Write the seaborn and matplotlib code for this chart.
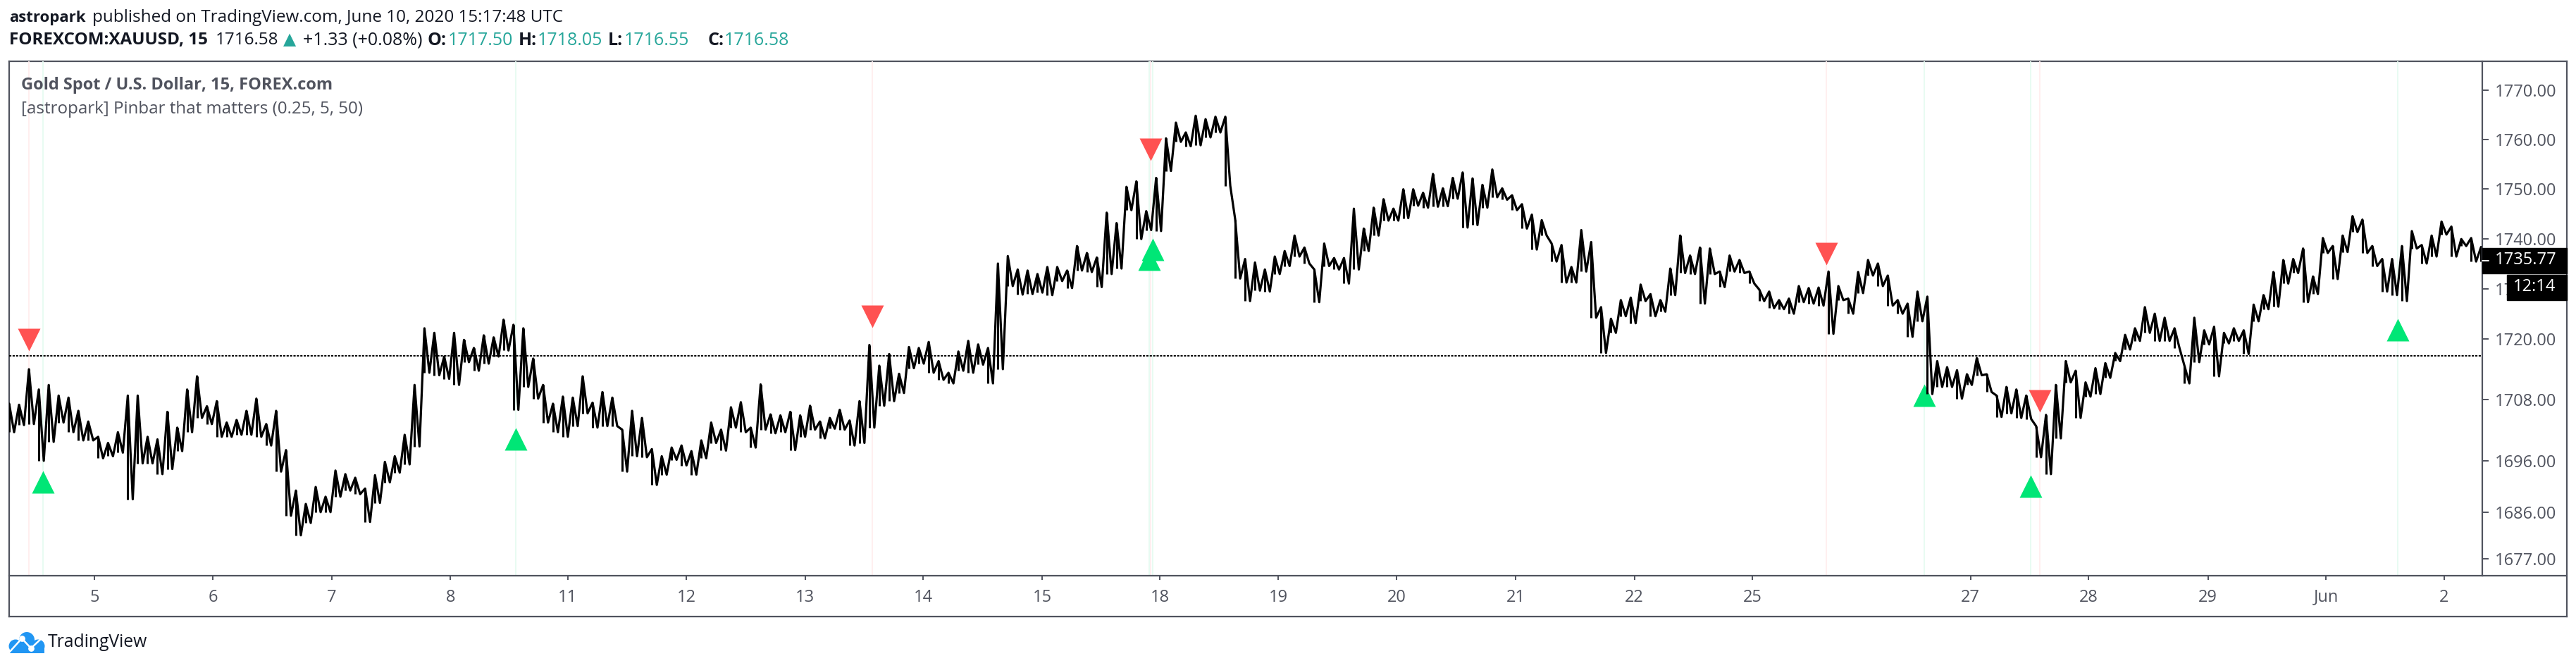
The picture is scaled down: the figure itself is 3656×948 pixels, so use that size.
import matplotlib
matplotlib.use('Agg')
import matplotlib.pyplot as plt
import numpy as np
import pandas as pd
import seaborn as sns
from matplotlib.patches import Circle, Rectangle
from matplotlib.ticker import FixedLocator, NullLocator

W = 3656
H = 948
GREY = '#50535E'
TEAL = '#26A69A'
DARK = '#131722'

# one high/low pair every 8 bars (2 hours)
highs = [
    1707.2, 1707.0, 1714.0, 1710.0, 1710.9, 1708.8, 1708.4, 1705.8, 1703.7, 1700.7, 1699.5, 1701.6, 1708.8,
    1708.8, 1700.7, 1700.2, 1705.6, 1702.5, 1710.0, 1712.6, 1706.7, 1707.7, 1703.5, 1704.0, 1705.8, 1708.2,
    1703.2, 1705.8, 1698.1, 1690.2, 1687.6, 1690.9, 1689.0, 1694.1, 1693.4, 1692.7, 1690.6, 1693.2, 1695.8,
    1696.9, 1701.1, 1710.9, 1722.1, 1721.2, 1716.5, 1721.2, 1719.8, 1718.2, 1720.7, 1720.3, 1723.8, 1722.8,
    1722.1, 1716.1, 1710.9, 1707.2, 1708.6, 1708.4, 1712.6, 1707.4, 1709.5, 1708.4, 1702.1, 1705.8,
    1704.4, 1698.3, 1696.9, 1698.6, 1699.0, 1697.9, 1700.0, 1703.5, 1702.1, 1706.5, 1707.5, 1702.5, 1711.0,
    1705.1, 1704.9, 1705.6, 1704.9, 1706.8, 1703.7, 1704.4, 1706.0, 1703.9, 1707.7, 1718.8, 1714.7, 1717.0,
    1713.1, 1718.4, 1718.2, 1719.4, 1715.6, 1713.3, 1717.5, 1719.6, 1718.9, 1718.2, 1735.0, 1736.5, 1733.8,
    1733.6, 1732.9, 1734.3, 1734.3, 1733.6,
    1738.5, 1737.1, 1736.2, 1745.2, 1743.1, 1750.4, 1751.5, 1745.5, 1752.2, 1760.2, 1763.4, 1761.4, 1764.8,
    1764.1, 1764.6, 1764.6, 1743.8, 1735.9, 1735.2, 1733.8, 1736.4, 1737.5, 1740.6, 1738.2, 1733.8, 1739.0,
    1736.1, 1736.1, 1746.0, 1742.0, 1746.2, 1747.9, 1746.0, 1749.9, 1749.9, 1749.2, 1753.0, 1750.1, 1752.2,
    1753.3, 1752.1, 1750.8, 1753.9, 1750.1, 1748.7, 1746.9, 1744.8, 1743.7, 1739.0, 1738.7, 1734.3, 1741.7,
    1739.3, 1726.3, 1724.0, 1727.7, 1728.2, 1730.8, 1728.9, 1727.7, 1734.0, 1740.6, 1736.6, 1738.2, 1738.0,
    1733.4, 1736.6, 1735.7, 1733.4, 1729.8, 1729.4,
    1727.7, 1728.0, 1730.5, 1730.1, 1730.2, 1733.4, 1730.5, 1728.0, 1733.3, 1735.7, 1735.0, 1732.6, 1727.7,
    1727.0, 1729.4, 1728.4, 1715.6, 1714.4, 1713.8, 1713.0, 1716.2, 1713.0, 1708.8, 1710.5, 1710.0, 1708.8,
    1702.8, 1705.0, 1710.9, 1715.6, 1713.7, 1711.4, 1714.2, 1715.2, 1717.2, 1720.8, 1722.1, 1726.3, 1725.0,
    1724.2, 1722.1, 1714.7, 1724.2, 1721.7, 1722.4, 1721.2, 1722.1, 1721.7, 1726.8, 1728.7, 1733.3, 1735.7,
    1735.9, 1738.0, 1732.4, 1740.1, 1738.5, 1740.6, 1744.5, 1743.8, 1738.5, 1735.9, 1735.9, 1738.5, 1741.5,
    1738.7, 1740.6, 1743.4, 1742.4, 1739.9, 1740.1, 1738.3,
]
lows = [
    1701.6, 1703.0, 1703.2, 1696.0, 1699.7, 1703.5, 1701.6, 1700.0, 1700.0, 1696.5, 1696.9, 1697.6, 1688.5,
    1695.5, 1695.5, 1693.4, 1694.4, 1697.9, 1701.6, 1704.4, 1703.2, 1700.7, 1700.7, 1701.1, 1701.1, 1700.7,
    1699.0, 1693.9, 1685.3, 1681.5, 1683.9, 1686.0, 1686.0, 1689.0, 1690.2, 1689.5, 1684.1, 1687.8, 1691.8,
    1693.7, 1695.3, 1698.8, 1713.3, 1712.8, 1712.1, 1710.9, 1715.4, 1713.7, 1715.1, 1716.5, 1717.7, 1706.0,
    1710.5, 1708.2, 1703.5, 1701.6, 1700.7, 1702.8, 1705.3, 1702.5, 1702.8, 1702.8, 1693.9, 1696.9,
    1696.7, 1691.3, 1693.3, 1696.2, 1695.1, 1693.3, 1696.5, 1699.5, 1698.0, 1702.5, 1701.6, 1698.6, 1702.1,
    1701.4, 1701.6, 1698.1, 1700.7, 1702.1, 1700.4, 1702.3, 1702.1, 1699.0, 1699.5, 1702.5, 1706.8, 1707.7,
    1709.3, 1714.2, 1715.1, 1713.3, 1711.9, 1711.2, 1713.7, 1713.3, 1714.9, 1711.2, 1714.0, 1730.5, 1728.8,
    1728.9, 1729.2, 1728.7, 1731.5, 1730.1,
    1733.6, 1733.3, 1730.3, 1732.9, 1734.0, 1745.7, 1739.9, 1741.7, 1741.5, 1753.6, 1759.5, 1758.6, 1758.8,
    1760.4, 1761.4, 1750.6, 1732.0, 1727.5, 1729.6, 1729.4, 1732.9, 1734.5, 1736.4, 1735.0, 1727.3, 1734.5,
    1733.8, 1731.0, 1733.8, 1737.5, 1740.6, 1743.6, 1743.6, 1744.1, 1746.6, 1746.2, 1746.4, 1746.5, 1748.0,
    1742.2, 1742.7, 1746.2, 1748.3, 1747.8, 1745.7, 1742.0, 1737.8, 1740.6, 1735.4, 1731.2, 1731.2, 1733.4,
    1724.2, 1717.2, 1721.2, 1724.5, 1723.1, 1727.5, 1724.5, 1725.4, 1728.7, 1733.1, 1732.9, 1727.0, 1732.9,
    1730.3, 1733.4, 1733.1, 1731.0, 1727.5, 1726.1,
    1725.9, 1725.0, 1727.3, 1727.0, 1726.6, 1721.0, 1727.7, 1725.0, 1729.1, 1732.6, 1730.5, 1726.6, 1725.0,
    1720.4, 1723.5, 1709.1, 1710.5, 1710.5, 1708.2, 1710.9, 1712.8, 1709.5, 1704.6, 1705.3, 1704.4, 1704.2,
    1696.7, 1693.4, 1700.4, 1711.4, 1704.4, 1708.6, 1709.1, 1712.3, 1715.6, 1717.9, 1719.6, 1721.2, 1719.6,
    1719.6, 1718.2, 1711.2, 1715.4, 1718.9, 1712.6, 1719.1, 1719.6, 1717.0, 1723.5, 1725.9, 1726.4, 1731.0,
    1733.1, 1727.3, 1728.9, 1737.1, 1731.9, 1737.3, 1741.3, 1737.1, 1734.5, 1729.4, 1728.7, 1727.5, 1738.0,
    1735.0, 1736.4, 1740.8, 1736.4, 1738.5, 1735.4, 1735.4,
]

tick_bars = [69, 165, 261, 357, 452, 548, 644, 739.5, 836, 931, 1027, 1122.6, 1219, 1315, 1410.5, 1587, 1682.5, 1779, 1874.5, 1970]
tick_labels = ['5', '6', '7', '8', '11', '12', '13', '14', '15', '18', '19', '20', '21', '22', '25', '27', '28', '29', 'Jun', '2']
price_ticks = [1677, 1686, 1696, 1708, 1720, 1730, 1740, 1750, 1760, 1770]

sell_bars = [16, 698.4, 923.6, 1470.4, 1643]
sell_prices = [1719.8, 1724.4, 1757.9, 1736.9, 1707.8]
buy_bars = [27.4, 410, 922.5, 925.3, 1549.6, 1635.7, 1932.7]
buy_prices = [1691.9, 1700.3, 1735.8, 1737.8, 1708.9, 1691.1, 1721.8]

LAST_CLOSE = 1716.58
LAST_PRICE = 1735.77

sns.set_theme(style='white')
plt.rcParams['font.family'] = ['Open Sans', 'DejaVu Sans']


def fx(px):
    return px / W


def fy(py):
    return 1 - py / H


def put_text(px, py, s, size=17.5, color=GREY, weight='normal', ha='left'):
    fig.text(fx(px), fy(py), s, fontsize=size, color=color, fontweight=weight, ha=ha, va='center')


fig = plt.figure(figsize=(W / 100, H / 100), dpi=100, facecolor='white')

# outer frame with the price and time panes
frame = fig.add_axes([fx(13), fy(875), fx(3643 - 13), (875 - 87) / H])
frame.set_xticks([])
frame.set_yticks([])
for spine in frame.spines.values():
    spine.set_color(GREY)
    spine.set_linewidth(1.6)

ax = fig.add_axes([fx(13), fy(817), fx(3523 - 13), (817 - 87) / H], facecolor='none')

# pale columns behind the signals
for b in sell_bars:
    ax.axvline(b, color='#FFEFEF', lw=1.4, zorder=0.5)
for b in buy_bars:
    ax.axvline(b, color='#E8FBF2', lw=1.4, zorder=0.5)

ax.axhline(LAST_CLOSE, color='black', lw=1.4, ls=(0, (1.6, 0.9)), zorder=1)

sns.scatterplot(x=sell_bars, y=sell_prices, marker='v', s=530, color='#FF5252', linewidth=0, ax=ax, zorder=1.5)
sns.scatterplot(x=buy_bars, y=buy_prices, marker='^', s=530, color='#00E676', linewidth=0, ax=ax, zorder=1.5)

# high and low of each window: one bar plus a jagged line joining the bars
bars = np.arange(len(highs)) * 8
zig = pd.DataFrame({
    'bar': np.column_stack([bars, bars + 4]).ravel(),
    'price': np.column_stack([highs, lows]).ravel(),
})
ax.vlines(bars, lows, highs, color='black', lw=2.2, zorder=2)
sns.lineplot(data=zig, x='bar', y='price', sort=False, estimator=None, color='black', lw=2.3, ax=ax, zorder=2)

ax.set_yscale('log')
ax.set_xlim(0, 2001)
ax.set_ylim(1673.7, 1775.9)
ax.set_xlabel('')
ax.set_ylabel('')
ax.set_xticks(tick_bars)
ax.set_xticklabels(tick_labels)
ax.xaxis.set_minor_locator(NullLocator())
ax.yaxis.tick_right()
ax.yaxis.set_major_locator(FixedLocator(price_ticks))
ax.yaxis.set_minor_locator(NullLocator())
ax.set_yticklabels(['%.2f' % p for p in price_ticks])
ax.tick_params(axis='x', length=4.5, width=1.4, color=GREY, labelcolor=GREY, labelsize=17, pad=9, bottom=True)
ax.tick_params(axis='y', length=6.5, width=1.4, color=GREY, labelcolor=GREY, labelsize=17, pad=6, right=True, left=False)
for name, spine in ax.spines.items():
    spine.set_color(GREY)
    spine.set_linewidth(1.6)
    spine.set_visible(name in ('right', 'bottom'))
# the bottom rule runs on under the price pane
fig.add_artist(plt.Line2D([fx(3523), fx(3643)], [fy(817), fy(817)], color=GREY, lw=1.6))

# last price tag and countdown
fig.add_artist(Rectangle((fx(3523), fy(388)), fx(120), 36 / H, color='black', zorder=5))
fig.add_artist(Rectangle((fx(3558), fy(426)), fx(85), 36 / H, color='black', zorder=5))
fig.add_artist(plt.Line2D([fx(3523), fx(3532)], [fy(370), fy(370)], color='white', lw=1.4, zorder=6))
fig.text(fx(3541), fy(369), '%.2f' % LAST_PRICE, fontsize=17, color='white', va='center', zorder=6)
fig.text(fx(3567), fy(407), '12:14', fontsize=17, color='white', va='center', zorder=6)

# header
put_text(13, 25, 'astropark', size=16, color=DARK, weight='bold')
put_text(131, 25, 'published on TradingView.com, June 10, 2020 15:17:48 UTC', color=DARK)
put_text(13, 57, 'FOREXCOM:XAUUSD, 15', color=DARK, weight='bold')
put_text(306, 57, '1716.58', size=17.5, color=DARK)
put_text(402, 57, '▲', size=17, color=TEAL)
put_text(430, 57, '+1.33 (+0.08%)', size=18, color=DARK)
for px, label in [(607, 'O:'), (736, 'H:'), (863, 'L:'), (1005, 'C:')]:
    put_text(px, 57, label, size=18, color=DARK, weight='bold')
for px, value in [(636, '1717.50'), (763, '1718.05'), (886, '1716.55'), (1028, '1716.58')]:
    put_text(px, 57, value, size=18, color=TEAL)

put_text(30, 121, 'Gold Spot / U.S. Dollar, 15, FOREX.com', size=17, weight='bold')
put_text(30, 155, '[astropark] Pinbar that matters (0.25, 5, 50)', size=17.4)

# TradingView logo
logo = fig.add_axes([fx(12), fy(927), fx(52), 30 / H])
logo.set_xlim(12, 64)
logo.set_ylim(927, 897)
logo.axis('off')
for cx, cy, r in [(38, 908, 11), (22, 917, 9.5), (54, 917, 9.5)]:
    logo.add_patch(Circle((cx, cy), r, color='#2196F3', lw=0))
logo.add_patch(Rectangle((14, 917), 49, 10, color='#2196F3', lw=0))
logo.plot([12, 31, 44, 62], [927, 906, 920, 903], color='white', lw=1.8)
logo.scatter([31, 44], [906, 920], s=40, color='white', linewidth=0, zorder=3)
put_text(68, 912, 'TradingView', size=17.8, color=DARK)

fig.savefig('out.png', dpi=100)
